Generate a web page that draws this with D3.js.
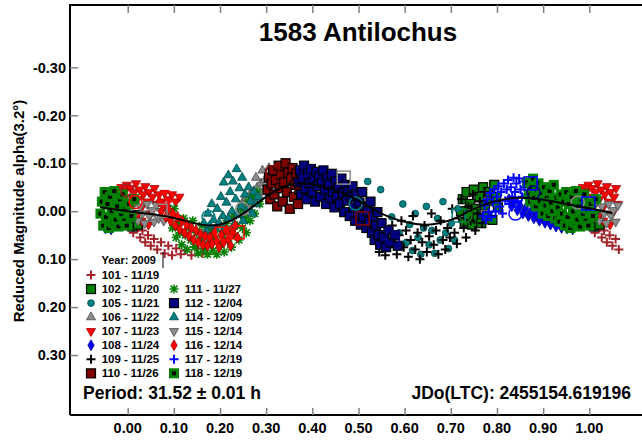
<!DOCTYPE html>
<html>
<head>
<meta charset="utf-8">
<script src="https://cdn.jsdelivr.net/npm/d3@7"></script>
<style>
  body { margin: 0; background: #fff; }
  text { font-family: "Liberation Sans", Arial, sans-serif; font-weight: bold; fill: #000; }
</style>
</head>
<body>
<script>
//-----------------Data (phase, reduced magnitude) ----------------

const phaseTicks = [0, 0.1, 0.2, 0.3, 0.4, 0.5, 0.6, 0.7, 0.8, 0.9, 1.0];
const magTicks = [-0.3, -0.2, -0.1, 0, 0.1, 0.2, 0.3];

const s101 = [[0.000,-0.020],[0.004,0.002],[0.008,0.025],[0.012,0.045],[0.017,0.015],[0.022,0.035],[0.027,0.055],[0.032,0.040],[0.038,0.065],[0.044,0.050],[0.050,0.072],[0.057,0.058],[0.064,0.080],[0.072,0.065],[0.080,0.088],[0.088,0.072],[0.096,0.092],[0.105,0.078],[0.115,0.090],[0.125,0.082],[0.138,0.092],[0.150,0.078],[0.162,0.088]];
const s102 = [[0.722,0.000],[0.726,-0.025],[0.730,0.022],[0.734,-0.040],[0.738,0.008],[0.742,-0.015],[0.746,0.028],[0.750,-0.045],[0.754,-0.005],[0.758,0.015],[0.762,-0.030],[0.766,0.025],[0.770,-0.050],[0.774,-0.012],[0.778,0.010],[0.782,-0.040],[0.786,-0.022],[0.790,0.018],[0.794,-0.055],[0.798,-0.030],[0.802,-0.008],[0.004,0.018],[0.010,0.032],[0.016,0.008],[0.022,0.028]];
const s105 = [[0.520,-0.062],[0.548,-0.045],[0.572,0.012],[0.588,0.045],[0.596,-0.015],[0.604,0.065],[0.611,0.028],[0.617,0.082],[0.623,0.005],[0.629,0.055],[0.635,0.090],[0.641,0.035],[0.647,-0.010],[0.653,0.070],[0.659,0.040],[0.665,0.088],[0.671,0.015],[0.677,0.060],[0.683,-0.020],[0.689,0.045],[0.695,0.078],[0.701,0.025],[0.708,0.060],[0.715,-0.005]];
const s106 = [[0.245,0.000],[0.249,-0.018],[0.253,0.008],[0.257,-0.028],[0.261,-0.008],[0.265,-0.035],[0.269,-0.015],[0.273,-0.042],[0.277,-0.025],[0.281,-0.050],[0.285,-0.032],[0.289,-0.058],[0.293,-0.040],[0.297,-0.065],[0.301,-0.048],[0.305,-0.070],[0.309,-0.055],[0.313,-0.075],[0.318,-0.060],[0.323,-0.072],[0.328,-0.064],[0.334,-0.076],[0.278,-0.070],[0.292,-0.085],[0.306,-0.090]];
const s107 = [[0.982,-0.035],[0.986,-0.050],[0.990,-0.020],[0.994,-0.042],[0.998,-0.055],[0.002,-0.030],[0.006,-0.048],[0.010,-0.015],[0.014,-0.040],[0.018,-0.058],[0.022,-0.025],[0.026,-0.045],[0.030,-0.008],[0.034,-0.035],[0.038,-0.052],[0.042,-0.020],[0.046,-0.040],[0.050,0.005],[0.054,-0.030],[0.058,-0.048],[0.062,-0.015],[0.068,-0.035],[0.074,-0.020],[0.080,-0.038],[0.088,-0.025],[0.096,-0.035],[0.104,-0.020],[0.112,-0.030],[0.030,0.020],[0.045,0.028],[0.020,0.010]];
const s108 = [[0.826,-0.025],[0.832,-0.010],[0.838,-0.020],[0.844,-0.002],[0.850,-0.012],[0.856,0.005],[0.862,-0.006],[0.868,0.010],[0.874,0.000],[0.880,0.015],[0.886,0.006],[0.892,0.020],[0.898,0.010],[0.904,0.024],[0.910,0.014],[0.916,0.028],[0.922,0.018],[0.928,0.032],[0.934,0.022],[0.940,0.035],[0.946,0.025],[0.952,0.036],[0.958,0.028],[0.964,0.038]];
const s109 = [[0.545,0.085],[0.552,0.060],[0.558,0.092],[0.563,0.045],[0.568,0.075],[0.573,0.030],[0.578,0.065],[0.583,0.090],[0.588,0.050],[0.593,0.020],[0.598,0.075],[0.603,0.040],[0.608,0.095],[0.613,0.060],[0.618,0.010],[0.623,0.080],[0.628,0.045],[0.633,0.100],[0.638,0.065],[0.643,0.030],[0.648,0.085],[0.653,0.052],[0.658,0.005],[0.663,0.070],[0.668,0.040],[0.673,0.090],[0.678,0.020],[0.683,0.060],[0.688,0.080],[0.693,0.035],[0.698,0.055],[0.703,-0.005],[0.708,0.045],[0.713,0.068],[0.718,0.015],[0.723,-0.025],[0.728,0.035],[0.733,0.055],[0.738,-0.010],[0.743,0.020],[0.748,-0.035],[0.753,0.040],[0.758,0.005],[0.763,-0.020],[0.768,0.025],[0.773,-0.040]];
const s110 = [[0.303,-0.045],[0.306,-0.070],[0.309,-0.025],[0.312,-0.058],[0.315,-0.085],[0.318,-0.035],[0.321,-0.065],[0.324,-0.010],[0.327,-0.095],[0.330,-0.048],[0.333,-0.075],[0.336,-0.020],[0.339,-0.060],[0.342,-0.100],[0.345,-0.040],[0.348,-0.080],[0.351,-0.005],[0.354,-0.068],[0.357,-0.090],[0.360,-0.030],[0.363,-0.055],[0.366,-0.078],[0.369,-0.015],[0.372,-0.045],[0.375,-0.070],[0.378,-0.035]];
const s111 = [[0.093,0.010],[0.097,0.035],[0.101,-0.005],[0.105,0.055],[0.109,0.025],[0.113,0.045],[0.117,0.070],[0.121,0.015],[0.125,0.050],[0.129,0.080],[0.133,0.035],[0.137,0.060],[0.141,0.020],[0.145,0.075],[0.149,0.045],[0.153,0.088],[0.157,0.060],[0.161,0.030],[0.165,0.078],[0.169,0.050],[0.173,0.090],[0.177,0.065],[0.181,0.040],[0.185,0.082],[0.189,0.058],[0.193,0.090],[0.197,0.030],[0.201,0.070],[0.205,0.048],[0.209,0.085],[0.213,0.025],[0.217,0.062],[0.221,0.040],[0.225,0.075],[0.229,0.010],[0.233,0.050],[0.237,0.030],[0.241,0.060],[0.245,-0.005],[0.249,0.035],[0.253,0.015],[0.257,0.045],[0.261,-0.020],[0.265,0.020],[0.270,-0.030],[0.275,0.005],[0.280,-0.040],[0.286,-0.015]];
const s112 = [[0.370,-0.060],[0.373,-0.085],[0.376,-0.035],[0.379,-0.070],[0.382,-0.095],[0.385,-0.048],[0.388,-0.025],[0.391,-0.078],[0.394,-0.058],[0.397,-0.088],[0.400,-0.040],[0.403,-0.068],[0.406,-0.020],[0.409,-0.082],[0.412,-0.052],[0.415,-0.072],[0.418,-0.030],[0.421,-0.060],[0.424,-0.085],[0.427,-0.045],[0.430,-0.015],[0.433,-0.070],[0.436,-0.055],[0.439,-0.028],[0.442,-0.078],[0.445,-0.040],[0.448,-0.008],[0.451,-0.062],[0.454,-0.030],[0.457,-0.050],[0.460,-0.015],[0.463,-0.068],[0.466,-0.038],[0.469,0.002],[0.472,-0.055],[0.475,-0.022],[0.478,-0.042],[0.481,0.010],[0.484,-0.030],[0.487,-0.052],[0.490,-0.008],[0.493,0.020],[0.496,-0.035],[0.499,0.005],[0.502,-0.018],[0.505,0.028],[0.508,-0.040],[0.511,0.012],[0.514,-0.010],[0.517,0.035],[0.520,0.000],[0.523,0.022],[0.526,-0.020],[0.529,0.045],[0.532,0.010],[0.535,0.060],[0.538,0.030],[0.541,0.002],[0.544,0.050],[0.547,0.070],[0.550,0.025],[0.555,0.055],[0.560,0.075],[0.565,0.040],[0.570,0.065],[0.578,0.050],[0.585,0.072]];
const s114 = [[0.165,0.025],[0.170,0.040],[0.174,0.005],[0.178,0.030],[0.182,-0.015],[0.186,0.018],[0.190,0.038],[0.194,-0.005],[0.198,0.025],[0.202,-0.030],[0.206,0.010],[0.210,0.035],[0.214,-0.018],[0.218,0.015],[0.222,-0.040],[0.226,0.000],[0.230,0.028],[0.234,-0.025],[0.238,0.008],[0.242,-0.048],[0.246,-0.010],[0.250,0.020],[0.254,-0.035],[0.258,-0.002],[0.262,-0.050],[0.266,-0.020],[0.270,0.005],[0.274,-0.040],[0.278,-0.015],[0.282,-0.030],[0.208,-0.060],[0.218,-0.075],[0.228,-0.062],[0.236,-0.088],[0.248,-0.070]];
const s115 = [[0.990,-0.015],[0.996,0.005],[0.002,-0.025],[0.007,-0.005],[0.012,0.012],[0.017,-0.020],[0.022,0.020],[0.027,-0.010],[0.032,0.005],[0.037,0.025],[0.042,-0.015],[0.047,0.010],[0.052,-0.002],[0.057,0.022],[0.062,-0.012],[0.067,0.015],[0.072,0.000],[0.078,0.020],[0.084,-0.008],[0.090,0.012]];
const s116 = [[0.068,-0.020],[0.073,0.000],[0.078,-0.012],[0.083,0.012],[0.088,-0.005],[0.093,0.020],[0.098,0.005],[0.103,0.030],[0.108,0.012],[0.113,0.038],[0.118,0.020],[0.123,0.045],[0.128,0.028],[0.133,0.052],[0.138,0.035],[0.143,0.060],[0.148,0.040],[0.153,0.065],[0.158,0.048],[0.163,0.070],[0.168,0.052],[0.173,0.072],[0.178,0.055],[0.183,0.068],[0.188,0.045],[0.193,0.062],[0.198,0.075],[0.203,0.050],[0.208,0.065],[0.213,0.040],[0.218,0.058],[0.223,0.072],[0.228,0.045],[0.233,0.030],[0.238,0.055]];
const s117 = [[0.770,0.010],[0.773,-0.012],[0.776,0.018],[0.779,-0.025],[0.782,0.002],[0.785,-0.038],[0.788,0.012],[0.791,-0.018],[0.794,-0.045],[0.797,0.000],[0.800,-0.030],[0.803,-0.052],[0.806,-0.010],[0.809,-0.040],[0.812,0.005],[0.815,-0.058],[0.818,-0.022],[0.821,-0.045],[0.824,-0.065],[0.827,-0.015],[0.830,-0.050],[0.833,-0.030],[0.836,-0.070],[0.839,-0.040],[0.842,-0.058],[0.845,-0.020],[0.848,-0.068],[0.851,-0.045],[0.854,-0.030],[0.857,-0.062],[0.860,-0.050],[0.863,-0.035],[0.866,-0.060],[0.869,-0.042],[0.872,-0.055],[0.876,-0.030],[0.880,-0.045]];
const s118 = [[0.866,-0.060],[0.869,-0.035],[0.872,-0.020],[0.875,-0.050],[0.878,-0.068],[0.881,-0.028],[0.884,-0.010],[0.887,-0.045],[0.890,-0.058],[0.893,-0.022],[0.896,-0.038],[0.899,0.005],[0.902,-0.050],[0.905,-0.012],[0.908,-0.030],[0.911,0.010],[0.914,-0.042],[0.917,-0.018],[0.920,0.000],[0.923,-0.055],[0.926,0.015],[0.929,-0.028],[0.932,-0.008],[0.935,0.022],[0.938,-0.035],[0.941,0.005],[0.944,-0.020],[0.947,0.030],[0.950,-0.040],[0.953,0.012],[0.956,-0.015],[0.959,0.035],[0.962,-0.030],[0.965,0.000],[0.968,0.025],[0.971,-0.042],[0.974,0.018],[0.977,-0.010],[0.980,0.032],[0.983,-0.025],[0.986,0.008],[0.989,-0.035],[0.992,0.020],[0.995,-0.005],[0.998,0.030],[0.003,-0.015],[0.008,0.010],[0.014,-0.025]];

const sessionIds = ["101","102","105","106","107","108","109","110","111","112","114","115","116","117","118"];
const sessionLabels = ["101 - 11/19","102 - 11/20","105 - 11/21","106 - 11/22","107 - 11/23","108 - 11/24","109 - 11/25","110 - 11/26","111 - 11/27","112 - 12/04","114 - 12/09","115 - 12/14","116 - 12/14","117 - 12/19","118 - 12/19"];
const sessionData = [s101,s102,s105,s106,s107,s108,s109,s110,s111,s112,s114,s115,s116,s117,s118];

// large open markers (session, shape, phase, mag)
const openMarks = [
  ["101","circle",-0.001,-0.043],["107","circle",0.017,-0.019],["107","circle",0.084,-0.029],
  ["115","square",0.071,-0.001],["105","circle",0.175,0.012],["106","circle",0.248,-0.005],
  ["116","square",0.205,0.047],["116","square",0.238,0.044],["110","circle",0.313,-0.081],
  ["112","circle",0.381,-0.085],["106","square",0.468,-0.070],["105","circle",0.494,-0.016],
  ["110","square",0.509,0.015],["112","square",0.574,0.055],["114","square",0.717,0.009],
  ["102","circle",0.732,0.009],["117","circle",0.840,0.005],["117","square",0.873,-0.058],
  ["112","circle",0.879,-0.039],["106","circle",0.975,-0.018],["117","square",0.998,-0.016]
];

// Fourier fit curve
const fitPhase = [-0.06,0.0,0.05,0.10,0.15,0.18,0.21,0.25,0.30,0.34,0.38,0.42,0.46,0.50,0.55,0.60,0.65,0.70,0.75,0.80,0.85,0.90,0.95,1.00,1.05];
const fitMag = [-0.008,0.0,0.006,0.014,0.026,0.030,0.025,0.005,-0.030,-0.052,-0.058,-0.052,-0.040,-0.022,0.005,0.022,0.028,0.018,-0.005,-0.022,-0.028,-0.024,-0.015,-0.006,0.004];

//-----------------Styles----------------

const style = {
  "101": { shape: "plus", color: "#a3232a" },
  "102": { shape: "square", color: "#008000", stroke: "#000" },
  "105": { shape: "circle", color: "#008080", stroke: "#004848" },
  "106": { shape: "tri", color: "#8c8c8c", stroke: "#4a4a4a" },
  "107": { shape: "tridown", color: "#ff0000", stroke: "#a00000" },
  "108": { shape: "diamond", color: "#0000ff", stroke: "#000090" },
  "109": { shape: "plus", color: "#000" },
  "110": { shape: "square", color: "#800000", stroke: "#000" },
  "111": { shape: "star", color: "#008000" },
  "112": { shape: "square", color: "#000080", stroke: "#000" },
  "114": { shape: "tri", color: "#008080", stroke: "#004848" },
  "115": { shape: "tridown", color: "#8c8c8c", stroke: "#4a4a4a" },
  "116": { shape: "diamond", color: "#ff0000", stroke: "#a00000" },
  "117": { shape: "plus", color: "#0000ff" },
  "118": { shape: "square2", color: "#008000", stroke: "#000" }
};

//-----------------SVG----------------

const width = 642, height = 442;
const svg = d3.select("body").append("svg").attr("width", width).attr("height", height);

const x = d3.scaleLinear().domain([-0.125, 1.125]).range([70, 647]);
const y = d3.scaleLinear().domain([-0.43, 0.425]).range([5, 415]);

function addMark(g, shape, st) {
  if (shape === "plus") {
    g.append("path").attr("d", "M-4.5,0H4.5M0,-4.5V4.5")
      .attr("stroke", st.color).attr("stroke-width", 2).attr("fill", "none");
  } else if (shape === "star") {
    g.append("path").attr("d", "M-4.5,0H4.5M0,-4.5V4.5M-3.4,-3.4L3.4,3.4M-3.4,3.4L3.4,-3.4")
      .attr("stroke", st.color).attr("stroke-width", 1.6).attr("fill", "none");
  } else if (shape === "square") {
    g.append("rect").attr("x", -4.5).attr("y", -4.5).attr("width", 9).attr("height", 9)
      .attr("fill", st.color).attr("stroke", st.stroke).attr("stroke-width", 1.2);
  } else if (shape === "square2") {
    g.append("rect").attr("x", -4.5).attr("y", -4.5).attr("width", 9).attr("height", 9)
      .attr("fill", st.color).attr("stroke", st.color).attr("stroke-width", 1);
    g.append("rect").attr("x", -2).attr("y", -2).attr("width", 4).attr("height", 4).attr("fill", "#000");
  } else {
    const sym = { circle: d3.symbolCircle, tri: d3.symbolTriangle, tridown: d3.symbolTriangle, diamond: d3.symbolDiamond }[shape];
    const size = { circle: 36, tri: 36, tridown: 36, diamond: 34 }[shape];
    g.append("path").attr("d", d3.symbol(sym, size)())
      .attr("transform", shape === "tridown" ? "rotate(180)" : null)
      .attr("fill", st.color).attr("stroke", st.stroke).attr("stroke-width", 0.8);
  }
}

//-----------------Points (phase wrapped at both ends)----------------

const pts = svg.append("g");
sessionIds.forEach((id, i) => {
  const st = style[id];
  const shown = [];
  sessionData[i].forEach(([p, m]) => {
    shown.push([p, m]);
    if (p < 0.065) shown.push([p + 1, m]);
    if (p > 0.94) shown.push([p - 1, m]);
  });
  shown.forEach(([p, m]) => {
    const g = pts.append("g").attr("transform", `translate(${x(p)},${y(m)})`);
    addMark(g, st.shape, st);
  });
});

// open markers
openMarks.forEach(([id, shape, p, m]) => {
  const c = style[id].color;
  if (shape === "circle") {
    svg.append("circle").attr("cx", x(p)).attr("cy", y(m)).attr("r", 6.5)
      .attr("fill", "none").attr("stroke", c).attr("stroke-width", 1.5);
  } else {
    svg.append("rect").attr("x", x(p) - 6.5).attr("y", y(m) - 6.5).attr("width", 13).attr("height", 13)
      .attr("fill", "none").attr("stroke", c).attr("stroke-width", 1.5);
  }
});

// fit curve
svg.append("path")
  .datum(fitPhase.map((p, i) => [p, fitMag[i]]))
  .attr("d", d3.line().x(d => x(d[0])).y(d => y(d[1])).curve(d3.curveCatmullRom))
  .attr("fill", "none").attr("stroke", "#000").attr("stroke-width", 2);

//-----------------Frame and axes----------------

svg.append("path").attr("d", "M70,415V5H642M70,415H642")
  .attr("fill", "none").attr("stroke", "#000").attr("stroke-width", 2);

svg.append("g").attr("transform", "translate(0,5)")
  .call(d3.axisBottom(x).tickValues(phaseTicks).tickSize(8).tickFormat(""))
  .call(g => g.select(".domain").remove())
  .call(g => g.selectAll(".tick line").attr("stroke", "#808080").attr("stroke-width", 1.5));

svg.append("g").attr("transform", "translate(0,415)")
  .call(d3.axisTop(x).tickValues(phaseTicks).tickSize(7).tickFormat(""))
  .call(g => g.select(".domain").remove())
  .call(g => g.selectAll(".tick line").attr("stroke", "#808080").attr("stroke-width", 1.5));

svg.selectAll(".xlab").data(phaseTicks).enter().append("text")
  .attr("x", d => x(d)).attr("y", 433)
  .attr("text-anchor", "middle").style("font-size", "14.5px")
  .text(d => d3.format(".2f")(d));

svg.append("g").attr("transform", "translate(70,0)")
  .call(d3.axisRight(y).tickValues(magTicks).tickSize(8).tickFormat(""))
  .call(g => g.select(".domain").remove())
  .call(g => g.selectAll(".tick line").attr("stroke", "#808080").attr("stroke-width", 1.5));

svg.selectAll(".ylab").data(magTicks).enter().append("text")
  .attr("x", 66).attr("y", d => y(d)).attr("dy", "0.36em")
  .attr("text-anchor", "end").style("font-size", "14.5px")
  .text(d => d3.format(".2f")(d).replace("−", "-"));

svg.append("text")
  .attr("transform", "translate(24,211) rotate(-90)")
  .attr("text-anchor", "middle").style("font-size", "15px")
  .text("Reduced Magnitude alpha(3.2°)");

//-----------------Texts----------------

svg.append("text").attr("x", 358).attr("y", 41).attr("text-anchor", "middle")
  .style("font-size", "26px").text("1583 Antilochus");

svg.append("text").attr("x", 83).attr("y", 399).style("font-size", "17.5px")
  .text("Period: 31.52 ± 0.01 h");

svg.append("text").attr("x", 631).attr("y", 399).attr("text-anchor", "end")
  .style("font-size", "17.5px").text("JDo(LTC): 2455154.619196");

//-----------------Legend----------------

const legend = svg.append("g").attr("id", "legend");
legend.append("text").attr("x", 101.5).attr("y", 264).style("font-size", "11px").text("Year: 2009");
legend.append("line").attr("x1", 163).attr("x2", 163).attr("y1", 252).attr("y2", 268)
  .attr("stroke", "#000").attr("stroke-width", 1);

sessionIds.forEach((id, i) => {
  const col = i < 8 ? 0 : 1;
  const row = i < 8 ? i : i - 7;
  const cy = 275 + row * 14.05;
  const sx = col === 0 ? 91 : 174;
  const g = legend.append("g").attr("transform", `translate(${sx},${cy})`);
  addMark(g, style[id].shape, style[id]);
  legend.append("text").attr("x", sx + 10.7).attr("y", cy).attr("dy", "0.36em")
    .style("font-size", "11.5px").text(sessionLabels[i]);
});
</script>
</body>
</html>
